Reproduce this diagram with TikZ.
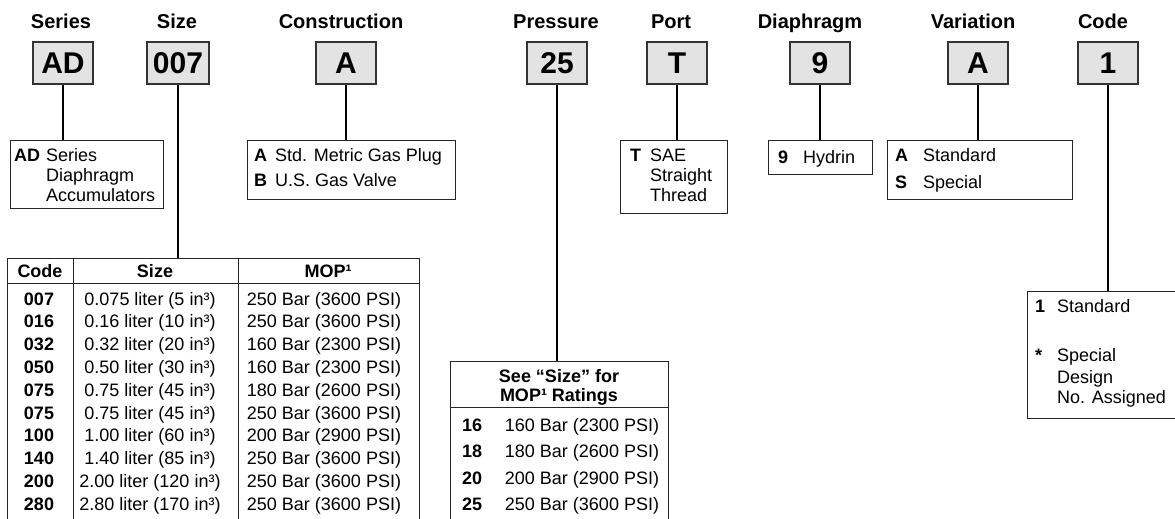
\documentclass[tikz,border=0pt]{standalone}
\usepackage{fontspec}
\setmainfont{Liberation Sans}
\begin{document}
\begin{tikzpicture}[x=1pt,y=-1pt,
  hdr/.style={font=\fontsize{20}{24}\selectfont\bfseries,inner sep=0pt,anchor=base},
  codebox/.style={draw=black!80,fill=black!11,line width=1.1pt,minimum width=60pt,minimum height=42pt,inner sep=0pt,font=\fontsize{30}{30}\selectfont\bfseries},
  desc/.style={draw=black!85,line width=1pt,anchor=north west,inner sep=0pt},
  conn/.style={line width=1.7pt,black},
  tline/.style={line width=1pt,black!85},
  txt/.style={font=\fontsize{18}{21}\selectfont,inner sep=0pt,anchor=base west},
  btxt/.style={font=\fontsize{18}{21}\selectfont\bfseries,inner sep=0pt,anchor=base west},
  ctxt/.style={font=\fontsize{18}{21}\selectfont,inner sep=0pt,anchor=base},
  cbtxt/.style={font=\fontsize{18}{21}\selectfont\bfseries,inner sep=0pt,anchor=base},
]
\useasboundingbox (0,0) rectangle (1175,519);
\clip (0,0) rectangle (1175,519);
\fill[white] (0,0) rectangle (1175,519);

% headers
\node[hdr] (hSeries) at (61,29) {Series};
\node[hdr] (hSize) at (177,29) {Size};
\node[hdr] (hCons) at (341,29) {Construction};
\node[hdr] (hPress) at (556,29) {Pressure};
\node[hdr] (hPort) at (671,29) {Port};
\node[hdr] (hDia) at (810,29) {Diaphragm};
\node[hdr] (hVar) at (973,29) {Variation};
\node[hdr] (hCode) at (1103,29) {Code};

% code boxes
\node[codebox] (bAD) at (63,63) {AD};
\node[codebox,minimum width=62pt] (bSize) at (178,63) {007};
\node[codebox] (bCons) at (346,63) {A};
\node[codebox] (bPress) at (557,63) {25};
\node[codebox] (bPort) at (677,63) {T};
\node[codebox] (bDia) at (820,63) {9};
\node[codebox] (bVar) at (978,63) {A};
\node[codebox] (bCode) at (1108,63) {1};

% description boxes
\node[desc,minimum width=153pt,minimum height=68pt] (dAD) at (10,140) {};
\node[desc,minimum width=208pt,minimum height=59pt] (dCons) at (247,140) {};
\node[desc,minimum width=107pt,minimum height=73pt] (dPort) at (620,140) {};
\node[desc,minimum width=104pt,minimum height=34pt] (dDia) at (768,140) {};
\node[desc,minimum width=185pt,minimum height=59pt] (dVar) at (887,140) {};
\node[desc,minimum width=170pt,minimum height=127pt] (dCode) at (1027,291) {};

% tables frames
\node[desc,minimum width=412pt,minimum height=280pt] (tSize) at (7,258) {};
\node[desc,minimum width=218pt,minimum height=180pt] (tPress) at (450,361) {};

% connectors
\draw[conn] (bAD.south) -- (bAD.south |- dAD.north);
\draw[conn] (bSize.south) -- (bSize.south |- tSize.north);
\draw[conn] (bCons.south) -- (bCons.south |- dCons.north);
\draw[conn] (bPress.south) -- (bPress.south |- tPress.north);
\draw[conn] (bPort.south) -- (bPort.south |- dPort.north);
\draw[conn] (bDia.south) -- (bDia.south |- dDia.north);
\draw[conn] (bVar.south) -- (bVar.south |- dVar.north);
\draw[conn] (bCode.south) -- (bCode.south |- dCode.north);

% Series text
\node[btxt] (s1k) at (14,161) {AD};
\node[txt] (s1) at (46,161) {Series};
\node[txt] (s2) at (46,181) {Diaphragm};
\node[txt] (s3) at (46,201) {Accumulators};

% Construction text
\node[btxt] (c1k) at (254,161) {A};
\node[txt] (c1) at (275,161) {Std. Metric Gas Plug};
\node[btxt] (c2k) at (254,186) {B};
\node[txt] (c2) at (275,186) {U.S. Gas Valve};

% Port text
\node[btxt] (p1k) at (630,161) {T};
\node[txt] (p1) at (650,161) {SAE};
\node[txt] (p2) at (650,181) {Straight};
\node[txt] (p3) at (650,201) {Thread};

% Diaphragm text
\node[btxt] (d1k) at (778,163) {9};
\node[txt] (d1) at (803,163) {Hydrin};

% Variation text
\node[btxt] (v1k) at (895,161) {A};
\node[txt] (v1) at (923,161) {Standard};
\node[btxt] (v2k) at (895,188) {S};
\node[txt] (v2) at (923,188) {Special};

% Code text
\node[btxt] (k1k) at (1035,312) {1};
\node[txt] (k1) at (1057,312) {Standard};
\node[btxt] (k2k) at (1035,361) {*};
\node[txt] (k2) at (1057,361) {Special};
\node[txt] (k3) at (1057,383) {Design};
\node[txt] (k4) at (1057,403) {No. Assigned};

% Size table
\draw[tline] (7,283) -- (419,283);
\draw[tline] (73,258) -- (73,530);
\draw[tline] (238,258) -- (238,530);
\node[cbtxt] (th1) at (40,277) {Code};
\node[cbtxt] (th2) at (155,277) {Size};
\node[cbtxt] (th3) at (328,277) {MOP¹};
\foreach \c/\s/\m [count=\i from 0] in {
  007/0.075 liter (5 in³)/250 Bar (3600 PSI),
  016/0.16 liter (10 in³)/250 Bar (3600 PSI),
  032/0.32 liter (20 in³)/160 Bar (2300 PSI),
  050/0.50 liter (30 in³)/160 Bar (2300 PSI),
  075/0.75 liter (45 in³)/180 Bar (2600 PSI),
  075/0.75 liter (45 in³)/250 Bar (3600 PSI),
  100/1.00 liter (60 in³)/200 Bar (2900 PSI),
  140/1.40 liter (85 in³)/250 Bar (3600 PSI),
  200/2.00 liter (120 in³)/250 Bar (3600 PSI),
  280/2.80 liter (170 in³)/250 Bar (3600 PSI)} {
  \node[cbtxt] (rc\i) at (39,{305+22.8*\i}) {\c};
  \node[ctxt] (rs\i) at (150,{305+22.8*\i}) {\s};
  \node[ctxt] (rm\i) at (324,{305+22.8*\i}) {\m};
}

% Pressure table
\draw[tline] (450,407) -- (668,407);
\node[cbtxt] (ph1) at (559,382) {See “Size” for};
\node[cbtxt] (ph2) at (559,401) {MOP¹ Ratings};
\foreach \c/\m [count=\i from 0] in {16/160 Bar (2300 PSI),18/180 Bar (2600 PSI),20/200 Bar (2900 PSI),25/250 Bar (3600 PSI)} {
  \node[btxt] (pc\i) at (462,{431+26.5*\i}) {\c};
  \node[ctxt] (pm\i) at (582,{431+26.5*\i}) {\m};
}
\end{tikzpicture}
\end{document}
